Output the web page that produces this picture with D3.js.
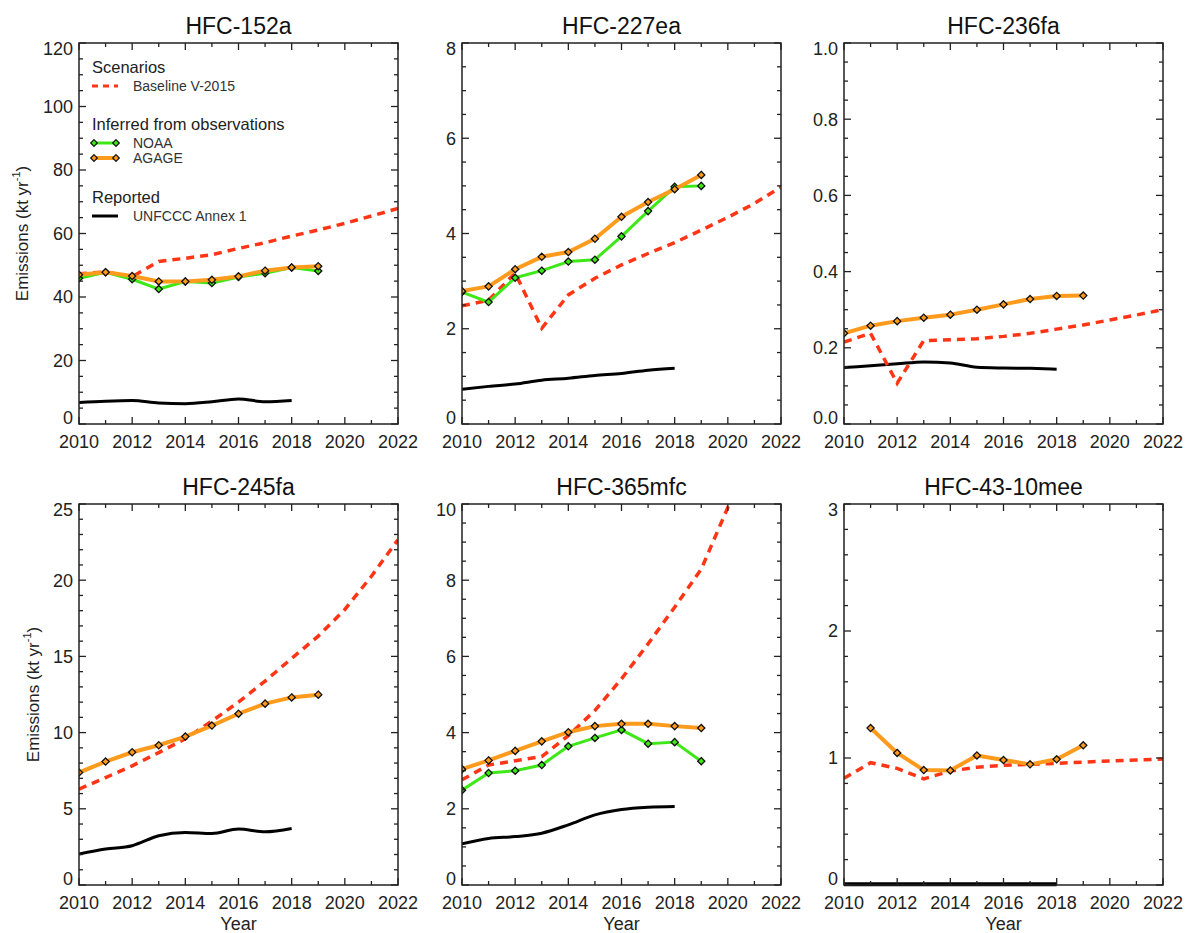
<!DOCTYPE html>
<html>
<head>
<meta charset="utf-8">
<script src="https://cdn.jsdelivr.net/npm/d3@7"></script>
<style>
  body { margin: 0; background: #fff; }
  svg { font-family: "Liberation Sans", Arial, Helvetica, sans-serif; }
</style>
</head>
<body>
<svg id="globalSVG" width="1190" height="933"></svg>
<script>
// years on the x axis
var scenarioYears = [2010, 2011, 2012, 2013, 2014, 2015, 2016, 2017, 2018, 2019, 2020, 2021, 2022];
var obsYears = [2010, 2011, 2012, 2013, 2014, 2015, 2016, 2017, 2018, 2019];
var reportedYears = [2010, 2011, 2012, 2013, 2014, 2015, 2016, 2017, 2018];
var xTickYears = [2010, 2012, 2014, 2016, 2018, 2020, 2022];

var panelTitles = ["HFC-152a", "HFC-227ea", "HFC-236fa", "HFC-245fa", "HFC-365mfc", "HFC-43-10mee"];
var yMaxValues = [120, 8, 1.0, 25, 10, 3];
var yMajorSteps = [20, 2, 0.2, 5, 2, 1];
var yMinorSteps = [5, 0.5, 0.05, 1, 0.5, 0.2];

// HFC-152a
var baseline152a = [47.3, 47.9, 46.4, 51.2, 52.2, 53.3, 55.3, 57.1, 59.2, 61.1, 63.2, 65.5, 67.9];
var noaa152a = [45.9, 47.8, 45.6, 42.5, 44.9, 44.4, 46.3, 47.5, 49.3, 48.2];
var agage152a = [47.0, 47.8, 46.6, 44.9, 44.9, 45.4, 46.5, 48.3, 49.3, 49.7];
var unfccc152a = [6.8, 7.2, 7.4, 6.6, 6.4, 7.0, 7.9, 7.0, 7.4];

// HFC-227ea
var baseline227ea = [2.48, 2.6, 3.17, 2.01, 2.71, 3.06, 3.34, 3.58, 3.81, 4.07, 4.34, 4.63, 4.98];
var noaa227ea = [2.77, 2.56, 3.07, 3.22, 3.41, 3.45, 3.94, 4.47, 4.98, 5.0];
var agage227ea = [2.79, 2.89, 3.25, 3.51, 3.61, 3.89, 4.35, 4.66, 4.93, 5.23];
var unfccc227ea = [0.73, 0.79, 0.84, 0.92, 0.96, 1.02, 1.06, 1.13, 1.17];

// HFC-236fa
var baseline236fa = [0.215, 0.238, 0.107, 0.219, 0.221, 0.224, 0.230, 0.238, 0.249, 0.260, 0.273, 0.286, 0.300];
var agage236fa = [0.238, 0.258, 0.270, 0.279, 0.287, 0.300, 0.314, 0.328, 0.336, 0.337];
var unfccc236fa = [0.148, 0.153, 0.158, 0.163, 0.160, 0.149, 0.147, 0.146, 0.144];

// HFC-245fa
var baseline245fa = [6.29, 7.05, 7.82, 8.69, 9.6, 10.76, 12.0, 13.38, 14.87, 16.33, 18.08, 20.26, 22.66];
var agage245fa = [7.38, 8.1, 8.71, 9.17, 9.74, 10.46, 11.24, 11.9, 12.31, 12.49];
var unfccc245fa = [2.03, 2.36, 2.58, 3.23, 3.45, 3.38, 3.67, 3.49, 3.71];

// HFC-365mfc
var baseline365mfc = [2.76, 3.15, 3.26, 3.37, 3.92, 4.58, 5.41, 6.33, 7.29, 8.29, 9.91, 11.8, 14.0];
var noaa365mfc = [2.49, 2.94, 3.0, 3.15, 3.64, 3.86, 4.07, 3.71, 3.75, 3.25];
var agage365mfc = [3.04, 3.27, 3.52, 3.77, 4.01, 4.17, 4.23, 4.23, 4.17, 4.12];
var unfccc365mfc = [1.08, 1.22, 1.27, 1.36, 1.58, 1.84, 1.98, 2.04, 2.06];

// HFC-43-10mee (AGAGE starts in 2011)
var baseline4310mee = [0.84, 0.963, 0.918, 0.836, 0.897, 0.928, 0.942, 0.95, 0.958, 0.968, 0.976, 0.984, 0.992];
var agage4310mee = [null, 1.236, 1.04, 0.905, 0.902, 1.02, 0.984, 0.95, 0.99, 1.10];
var unfccc4310mee = [0.005, 0.005, 0.005, 0.005, 0.005, 0.005, 0.005, 0.005, 0.005];

var baselineSeries = [baseline152a, baseline227ea, baseline236fa, baseline245fa, baseline365mfc, baseline4310mee];
var noaaSeries = [noaa152a, noaa227ea, null, null, noaa365mfc, null];
var agageSeries = [agage152a, agage227ea, agage236fa, agage245fa, agage365mfc, agage4310mee];
var unfcccSeries = [unfccc152a, unfccc227ea, unfccc236fa, unfccc245fa, unfccc365mfc, unfccc4310mee];

var colorBaseline = "#ff3516";
var colorNoaa = "#3ee816";
var colorAgage = "#ff9b1c";
var colorReported = "#000";
var axisColor = "#222";

var panelLefts = [79, 462, 844];
var panelTops = [43, 504];
var panelWidth = 319;
var panelHeight = 381;
var yLabelX = [22, 33];

var svgContainer = d3.select("#globalSVG");

var toPoints = function (xs, ys) {
    var pts = [];
    for (var i = 0; i < xs.length; i++) {
        if (ys[i] !== null && ys[i] !== undefined) pts.push({x: xs[i], y: ys[i]});
    }
    return pts;
};

var diamondPath = function (r) {
    return "M0," + (-r) + "L" + r + ",0L0," + r + "L" + (-r) + ",0Z";
};

var drawPanel = function (idx) {
    var col = idx % 3, row = Math.floor(idx / 3);
    var left = panelLefts[col], top = panelTops[row];
    var g = svgContainer.append("g").attr("transform", "translate(" + left + "," + top + ")");

    var x = d3.scaleLinear().domain([2010, 2022]).range([0, panelWidth]);
    var y = d3.scaleLinear().domain([0, yMaxValues[idx]]).range([panelHeight, 0]);

    var clipId = "clip" + idx;
    g.append("clipPath").attr("id", clipId).append("rect")
        .attr("x", 0).attr("y", 0).attr("width", panelWidth).attr("height", panelHeight + 3);

    var plot = g.append("g").attr("clip-path", "url(#" + clipId + ")");
    var line = d3.line().x(function (d) { return x(d.x); }).y(function (d) { return y(d.y); });
    var smoothLine = d3.line().curve(d3.curveMonotoneX).x(function (d) { return x(d.x); }).y(function (d) { return y(d.y); });

    // reported
    plot.append("path").datum(toPoints(reportedYears, unfcccSeries[idx]))
        .attr("d", smoothLine).attr("fill", "none")
        .attr("stroke", colorReported).attr("stroke-width", idx === 5 ? 4 : 3);

    // scenario
    plot.append("path").datum(toPoints(scenarioYears, baselineSeries[idx]))
        .attr("d", line).attr("fill", "none")
        .attr("stroke", colorBaseline).attr("stroke-width", 3.5)
        .attr("stroke-dasharray", "8,6");

    var drawObs = function (vals, color, width) {
        if (!vals) return;
        var pts = toPoints(obsYears, vals);
        plot.append("path").datum(pts).attr("d", line).attr("fill", "none")
            .attr("stroke", color).attr("stroke-width", width).attr("stroke-linejoin", "round");
        plot.selectAll(null).data(pts).enter().append("path")
            .attr("d", diamondPath(3.6))
            .attr("transform", function (d) { return "translate(" + x(d.x) + "," + y(d.y) + ")"; })
            .attr("fill", color).attr("stroke", "#111").attr("stroke-width", 1.3);
    };
    drawObs(noaaSeries[idx], colorNoaa, 3);
    drawObs(agageSeries[idx], colorAgage, 4);

    // frame
    g.append("rect").attr("x", 0).attr("y", 0).attr("width", panelWidth).attr("height", panelHeight)
        .attr("fill", "none").attr("stroke", axisColor).attr("stroke-width", 1.5);

    // ticks inward on all four sides
    var xMinor = d3.range(2010, 2023, 1);
    var yMinor = d3.range(0, yMaxValues[idx] + 1e-9, yMinorSteps[idx]);
    var yMajor = d3.range(0, yMaxValues[idx] + 1e-9, yMajorSteps[idx]);
    var ticks = g.append("g").attr("stroke", axisColor).attr("stroke-width", 1.3);
    xMinor.forEach(function (yr) {
        var len = (yr % 2 === 0) ? 7 : 4;
        ticks.append("line").attr("x1", x(yr)).attr("x2", x(yr)).attr("y1", panelHeight).attr("y2", panelHeight - len);
        ticks.append("line").attr("x1", x(yr)).attr("x2", x(yr)).attr("y1", 0).attr("y2", len);
    });
    yMinor.forEach(function (v) {
        var isMajor = yMajor.some(function (m) { return Math.abs(m - v) < 1e-6; });
        var len = isMajor ? 7 : 4;
        ticks.append("line").attr("x1", 0).attr("x2", len).attr("y1", y(v)).attr("y2", y(v));
        ticks.append("line").attr("x1", panelWidth).attr("x2", panelWidth - len).attr("y1", y(v)).attr("y2", y(v));
    });

    // tick labels (end labels are kept inside the axis span)
    var fmt = idx === 2 ? d3.format(".1f") : d3.format("d");
    g.selectAll(null).data(yMajor).enter().append("text")
        .attr("x", -6).attr("y", function (d) { return Math.max(6, Math.min(panelHeight - 6, y(d))); })
        .attr("dy", "0.36em")
        .attr("text-anchor", "end").attr("font-size", 18).attr("fill", "#222")
        .text(function (d) { return fmt(d); });
    g.selectAll(null).data(xTickYears).enter().append("text")
        .attr("x", function (d) { return x(d); }).attr("y", panelHeight + 24)
        .attr("text-anchor", "middle").attr("font-size", 18).attr("fill", "#222")
        .text(function (d) { return d; });

    // title
    g.append("text").attr("x", panelWidth / 2).attr("y", -9)
        .attr("text-anchor", "middle").attr("font-size", 23).attr("fill", "#111")
        .text(panelTitles[idx]);

    if (row === 1) {
        g.append("text").attr("x", panelWidth / 2).attr("y", panelHeight + 45)
            .attr("text-anchor", "middle").attr("font-size", 18).attr("fill", "#222")
            .text("Year");
    }
    if (col === 0) {
        var lab = svgContainer.append("text")
            .attr("transform", "translate(" + yLabelX[row] + "," + (top + panelHeight / 2) + ") rotate(-90)")
            .attr("text-anchor", "middle").attr("dy", "0.35em")
            .attr("font-size", 17).attr("fill", "#222");
        lab.append("tspan").text("Emissions (kt yr");
        lab.append("tspan").attr("font-size", 11).attr("dy", "-0.7em").text("-1");
        lab.append("tspan").attr("dy", "0.45em").text(")");
    }
};

var drawLegend = function () {
    var lg = svgContainer.append("g").attr("transform", "translate(" + panelLefts[0] + "," + panelTops[0] + ")");
    var x0 = 13, x1 = 39, tx = 54;
    var header = function (txt, yy) {
        lg.append("text").attr("x", x0).attr("y", yy).attr("dy", "0.35em")
            .attr("font-size", 16.5).attr("fill", "#222").text(txt);
    };
    var entry = function (txt, yy) {
        lg.append("text").attr("x", tx).attr("y", yy).attr("dy", "0.35em")
            .attr("font-size", 14).attr("fill", "#333").text(txt);
    };
    header("Scenarios", 24);
    lg.append("line").attr("x1", x0).attr("x2", x1).attr("y1", 43).attr("y2", 43)
        .attr("stroke", colorBaseline).attr("stroke-width", 3).attr("stroke-dasharray", "6,5");
    entry("Baseline V-2015", 43);

    header("Inferred from observations", 81);
    [[colorNoaa, "NOAA", 100, 3], [colorAgage, "AGAGE", 115, 4]].forEach(function (e) {
        lg.append("line").attr("x1", x0 + 2).attr("x2", x1 - 2).attr("y1", e[2]).attr("y2", e[2])
            .attr("stroke", e[0]).attr("stroke-width", e[3]);
        [x0 + 2, x1 - 2].forEach(function (px) {
            lg.append("path").attr("d", diamondPath(3.3))
                .attr("transform", "translate(" + px + "," + e[2] + ")")
                .attr("fill", e[0]).attr("stroke", "#111").attr("stroke-width", 1.2);
        });
        entry(e[1], e[2]);
    });

    header("Reported", 154);
    lg.append("line").attr("x1", x0).attr("x2", x1).attr("y1", 173).attr("y2", 173)
        .attr("stroke", colorReported).attr("stroke-width", 3);
    entry("UNFCCC Annex 1", 173);
};

for (var i = 0; i < panelTitles.length; i++) drawPanel(i);
drawLegend();
</script>
</body>
</html>
